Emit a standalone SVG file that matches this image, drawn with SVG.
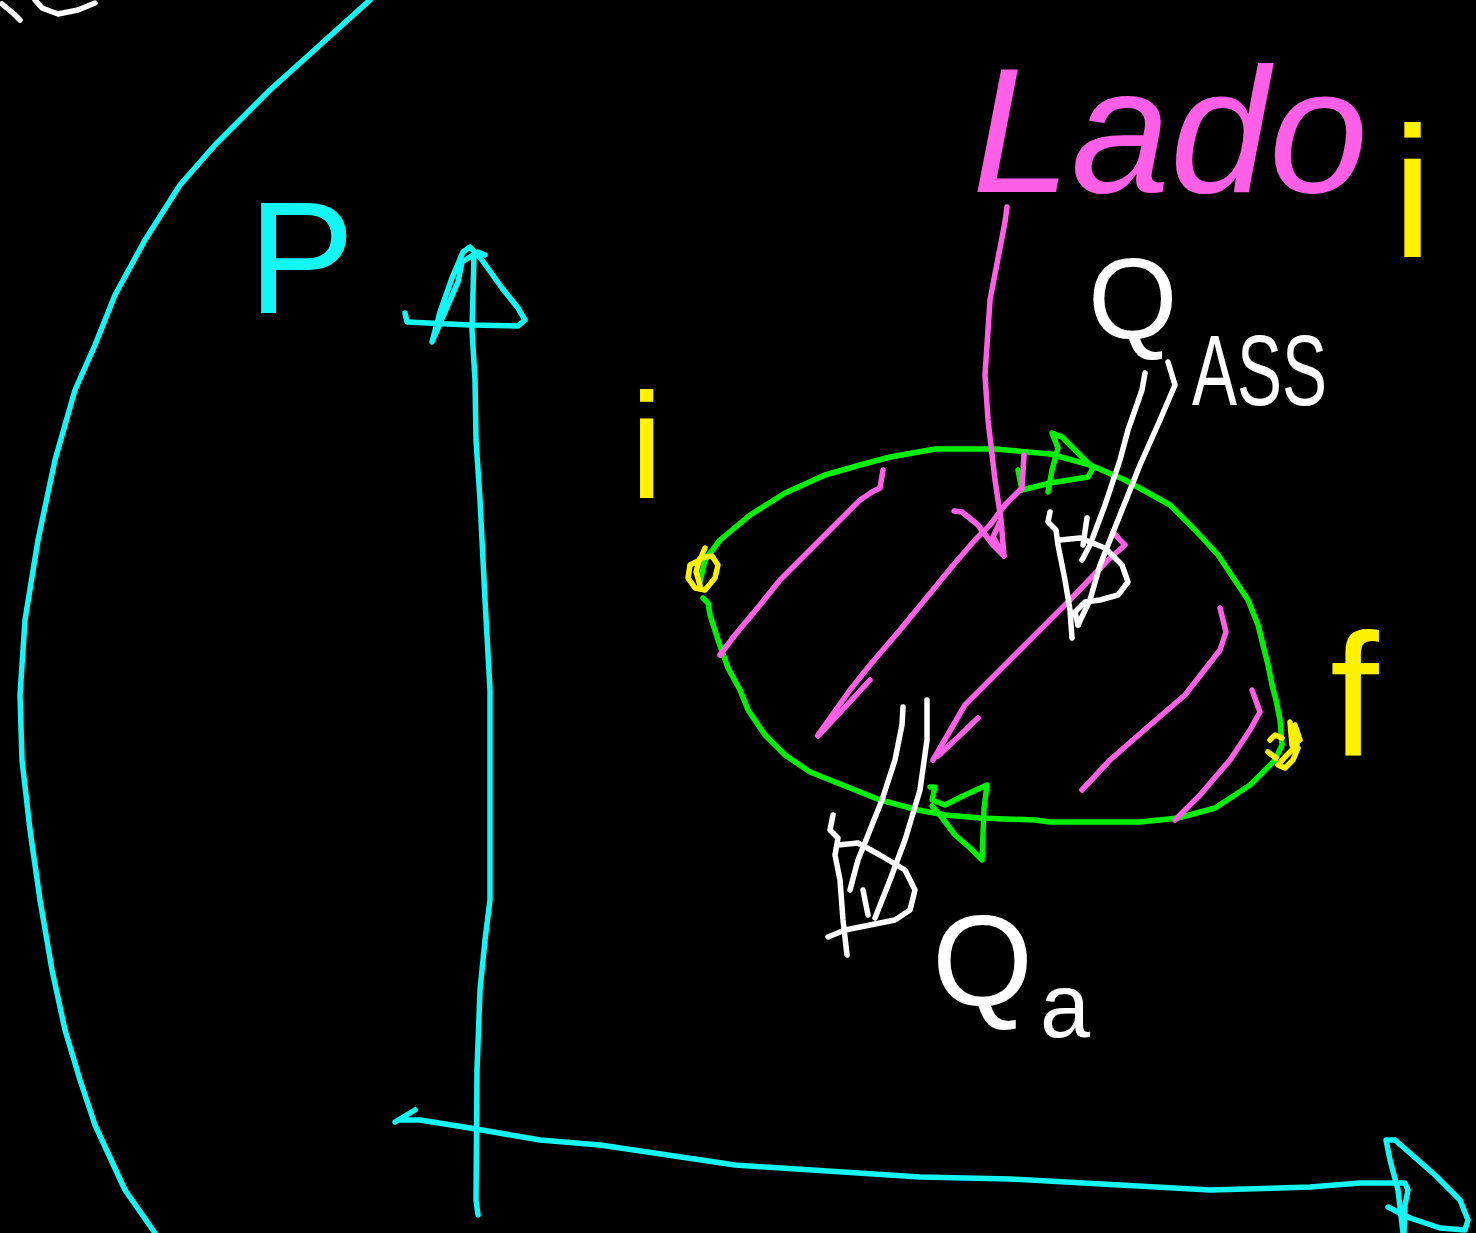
<svg xmlns="http://www.w3.org/2000/svg" width="1476" height="1233" viewBox="0 0 1476 1233">
<style>
.s{fill:none;stroke-width:5.5;stroke-linecap:round;stroke-linejoin:round}
.cy{stroke:#14F5F5}.gr{stroke:#00F000}.pk{stroke:#FF5FE6}.ye{stroke:#FFF200}.wh{stroke:#FFFFFF}
.t{font-family:"Liberation Sans",Arial,sans-serif}
</style>
<rect width="1476" height="1233" fill="#000"/>
<g id="fragment">
<path class="s wh" d="M2,4 L14,14 L20,20 M35,0 L42,8 L58,14 L78,10 L95,3"/>
</g>
<g id="axes">
<path class="s cy" d="M370,0 L320,45 L270,90 L215,145 L180,185 L145,240 L115,295 L95,345 L75,390 L55,460 L38,540 L25,620 L20,695 L22,760 L30,830 L40,900 L52,970 L65,1030 L80,1080 L95,1125 L125,1190 L155,1233"/>
<path class="s cy" d="M478,1215 L476,1200 L477,1070 L480,990 L485,940 L490,900 L490,690 L485,600 L480,500 L476,440 L475,380 L472,330 L474,255"/>
<path class="s cy" d="M405,313 L407,322 L470,325 L518,326 L525,320 L518,308 L502,288 L482,260 L470,247 L463,252 L452,278 L440,312 L432,342 L448,305 L458,282 L462,262 L478,252 L485,255"/>
<path class="s cy" d="M395,1122 L415,1110 M400,1120 L420,1120 L470,1128 L540,1140 L600,1145 L735,1165 L920,1177 L1010,1179 L1210,1190 L1310,1187 L1360,1183 L1405,1183 L1408,1190 L1405,1205 L1404,1233"/>
<path class="s cy" d="M1388,1207 L1410,1218 L1440,1228 L1465,1230 L1468,1220 L1460,1200 L1435,1175 L1395,1140 L1386,1140 L1390,1160 L1398,1190 L1403,1233"/>
</g>
<g id="cycle">
<path class="s gr" d="M700,582 L705,560 L720,540 L750,515 L785,493 L825,475 L860,465 L890,457 L935,449 L995,449 L1050,454 L1090,465 L1125,480 L1170,505 L1195,530 L1218,555 L1248,600 L1258,625 L1268,665 L1272,685 L1276,700 L1280,720 L1282,745 L1275,760 L1250,785 L1215,808 L1178,818 L1140,822 L1110,822 L1050,822 L1035,820 L980,818 L945,815 L918,810 L880,800 L835,782 L810,772 L785,755 L765,735 L748,710 L740,690 L728,668 L718,640 L710,615 L708,603 L703,598"/>
<path class="s gr" d="M1018,470 L1022,490 L1050,483 L1088,477 L1093,468 L1080,455 L1062,437 L1052,433 L1058,448 L1052,470 L1048,492"/>
<path class="s gr" d="M930,787 L935,787 L932,800 L945,805 L965,795 L987,785 L984,808 L982,860 L970,848 L955,835 L940,815 L932,806"/>
</g>
<g id="state-markers">
<path class="s ye" d="M705,548 L700,560 L690,565 L688,578 L695,588 L705,590 L715,578 L718,565 L712,556 L700,558 L696,572 L700,585"/>
<path class="s ye" d="M1290,722 L1292,745 L1300,740 L1295,725 L1297,745 L1285,757 L1278,765 L1285,768 L1293,760 L1298,748 M1270,740 L1275,735 L1282,738 M1268,752 L1276,758"/>
</g>
<g id="work-hatching">
<path class="s pk" d="M1007,207 L1005,222 L990,300 L985,375 L988,420 L995,480 L1001,520 L1004,556 L993,545 L978,525 L962,512 L954,511 M1004,556 L993,537 L1000,522"/>
<path class="s pk" d="M883,470 L880,488 L872,492 L860,500 L840,520 L780,580 L760,605 L735,635 L720,655"/>
<path class="s pk" d="M1024,455 L1022,488 L1005,505 L990,525 L975,540 L955,563 L900,630 L870,665 L850,690 L818,735"/>
<path class="s pk" d="M870,680 L848,704 L818,736"/>
<path class="s pk" d="M1113,532 L1120,540 L1125,545 L1108,560 L1070,600 L1045,625 L1000,670 L965,705 L933,760"/>
<path class="s pk" d="M978,718 L955,740 L938,756"/>
<path class="s pk" d="M1220,608 L1226,632 L1220,650 L1185,695 L1150,725 L1110,760 L1082,790"/>
<path class="s pk" d="M1252,690 L1260,712 L1250,730 L1230,760 L1200,795 L1175,820"/>
</g>
<g id="heat-in-arrow">
<path class="s wh" d="M1145,373 L1142,390 L1135,410 L1128,430 L1120,460 L1105,505 L1090,545 L1082,560"/>
<path class="s wh" d="M1168,362 L1175,385 L1160,420 L1140,465 L1120,515 L1100,565 L1090,600 L1078,625"/>
<path class="s wh" d="M1050,512 L1048,522 L1056,530 L1058,545 L1065,580 L1070,610 L1072,638 M1060,540 L1080,538 L1105,548 L1122,565 L1128,582 L1118,595 L1100,600 L1085,602 L1075,612 L1078,625 M1087,518 L1083,545"/>
</g>
<g id="heat-out-arrow">
<path class="s wh" d="M903,707 L902,725 L895,760 L882,800 L870,830 L858,860 L850,890"/>
<path class="s wh" d="M927,700 L927,740 L920,790 L905,840 L890,880 L875,918"/>
<path class="s wh" d="M833,815 L830,830 L838,838 L835,855 L840,880 L843,920 L847,955 M838,845 L858,843 L880,855 L905,870 L915,890 L910,910 L895,920 L870,925 L845,930 L828,937 M863,890 L868,915"/>
</g>
<g id="labels">
<text class="t" x="248" y="313" font-size="160" fill="#14F5F5">P</text>
<text class="t" x="972" y="192" font-size="178" font-style="italic" fill="#FF5FE6">Lado</text>
<text class="t" x="1392" y="257" font-size="185" fill="#FFF200">i</text>
<text class="t" x="630" y="498" font-size="150" fill="#FFF200">i</text>
<text class="t" x="1330" y="755" font-size="175" fill="#FFF200">f</text>
<text class="t" x="1088" y="338" font-size="115" fill="#FFFFFF">Q</text>
<text class="t" x="1192" y="405" font-size="100" fill="#FFFFFF" textLength="135" lengthAdjust="spacingAndGlyphs">ASS</text>
<text class="t" x="932" y="1005" font-size="130" fill="#FFFFFF">Q</text>
<text class="t" x="1040" y="1037" font-size="90" fill="#FFFFFF">a</text>
</g>
</svg>
